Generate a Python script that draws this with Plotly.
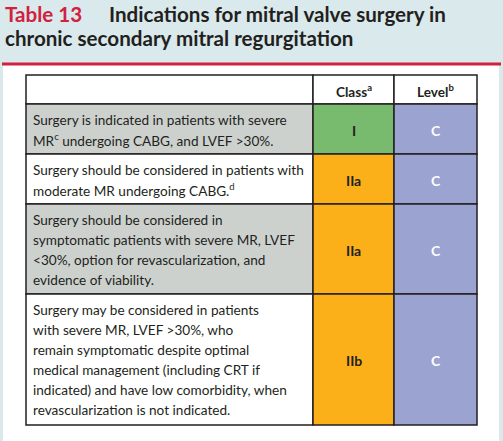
import plotly.graph_objects as go

# ---- data ----
title_label = "Table 13"
title_lines = ["Indications for mitral valve surgery in",
               "chronic secondary mitral regurgitation"]
header = ["", "Class<sup>a</sup>", "Level<sup>b</sup>"]
recommendations = [
    ["Surgery is indicated in patients with severe",
     "MR<sup>c</sup> undergoing CABG, and LVEF >30%."],
    ["Surgery should be considered in patients with",
     "moderate MR undergoing CABG.<sup>d</sup>"],
    ["Surgery should be considered in",
     "symptomatic patients with severe MR, LVEF",
     "<30%, option for revascularization, and",
     "evidence of viability."],
    ["Surgery may be considered in patients",
     "with severe MR, LVEF >30%, who",
     "remain symptomatic despite optimal",
     "medical management (including CRT if",
     "indicated) and have low comorbidity, when",
     "revascularization is not indicated."],
]
classes = ["I", "IIa", "IIa", "IIb"]
levels = ["C", "C", "C", "C"]

# ---- style ----
W, H = 503, 441
BG = "#d9e9ec"
RED = "#d2213f"
DARK = "#231f20"
GREY_ROW = "#cdd1ce"
CLASS_COL = {"I": "#78bb6e", "IIa": "#fbb01a", "IIb": "#fbb01a", "III": "#e32119"}
LEVEL_COL = "#9ba3d1"
FONT = "Lato"
FS = 13.6
TFS = 20.6

col_x = [26, 313, 394, 477]
table_top = 75
header_h = 29
line_h = 20

fig = go.Figure()
fig.add_trace(go.Scatter(x=[0], y=[0], mode="markers", marker=dict(opacity=0),
                         hoverinfo="skip", showlegend=False))

shapes = []
ann = []


def bold_font(color, size):
    return dict(color=color, size=size, family=FONT, weight="bold")


# white panel & red rule
shapes.append(dict(type="rect", x0=3, x1=499, y0=65, y1=H + 5, fillcolor="white", line_width=0, layer="below"))
shapes.append(dict(type="line", x0=2, x1=501, y0=64, y1=64, line=dict(color=RED, width=3)))

# title
ann.append(dict(x=3, y=14, text=title_label, font=bold_font(RED, TFS),
                xanchor="left", yanchor="middle", showarrow=False))
ann.append(dict(x=107, y=14, text=title_lines[0], font=bold_font(DARK, TFS),
                xanchor="left", yanchor="middle", showarrow=False))
ann.append(dict(x=3, y=38, text=title_lines[1], font=bold_font(DARK, TFS),
                xanchor="left", yanchor="middle", showarrow=False))

# header row
y0 = table_top
y1 = y0 + header_h
for j, h in enumerate(header):
    shapes.append(dict(type="rect", x0=col_x[j], x1=col_x[j + 1], y0=y0, y1=y1, fillcolor="white",
                       line=dict(color=DARK, width=1.5)))
    if h:
        ann.append(dict(x=(col_x[j] + col_x[j + 1]) / 2, y=(y0 + y1) / 2 + 1, text=h,
                        font=bold_font(DARK, FS), xanchor="center", yanchor="middle",
                        showarrow=False))

# body rows
top = y1
for i, lines in enumerate(recommendations):
    rh = line_h * len(lines) + 10 + (1 if len(lines) > 4 else 0)
    bot = top + rh
    fill = GREY_ROW if i % 2 == 0 else "white"
    shapes.append(dict(type="rect", x0=col_x[0], x1=col_x[1], y0=top, y1=bot, fillcolor=fill,
                       line=dict(color=DARK, width=1.5)))
    shapes.append(dict(type="rect", x0=col_x[1], x1=col_x[2], y0=top, y1=bot, fillcolor=CLASS_COL[classes[i]],
                       line=dict(color=DARK, width=1.5)))
    shapes.append(dict(type="rect", x0=col_x[2], x1=col_x[3], y0=top, y1=bot, fillcolor=LEVEL_COL,
                       line=dict(color=DARK, width=1.5)))
    for k, ln in enumerate(lines):
        ann.append(dict(x=col_x[0] + 5, y=top + 16 + line_h * k, text=ln,
                        font=dict(color=DARK, size=FS, family=FONT), xanchor="left", yanchor="middle",
                        showarrow=False))
    cy = (top + bot) / 2 + 1
    ann.append(dict(x=(col_x[1] + col_x[2]) / 2, y=cy, text=classes[i],
                    font=bold_font(DARK, 14), xanchor="center", yanchor="middle",
                    showarrow=False))
    ann.append(dict(x=(col_x[2] + col_x[3]) / 2, y=cy, text=levels[i],
                    font=bold_font("white", 14), xanchor="center", yanchor="middle",
                    showarrow=False))
    top = bot

fig.update_layout(
    width=W, height=H, margin=dict(l=0, r=0, t=0, b=0),
    paper_bgcolor=BG, plot_bgcolor="rgba(0,0,0,0)",
    xaxis=dict(range=[0, W], visible=False, fixedrange=True),
    yaxis=dict(range=[H, 0], visible=False, fixedrange=True),
    shapes=shapes, annotations=ann, showlegend=False,
)
fig.write_html("out.html", config={"displayModeBar": False},
               post_script="document.body.style.margin='0';document.body.style.overflow='hidden';")
